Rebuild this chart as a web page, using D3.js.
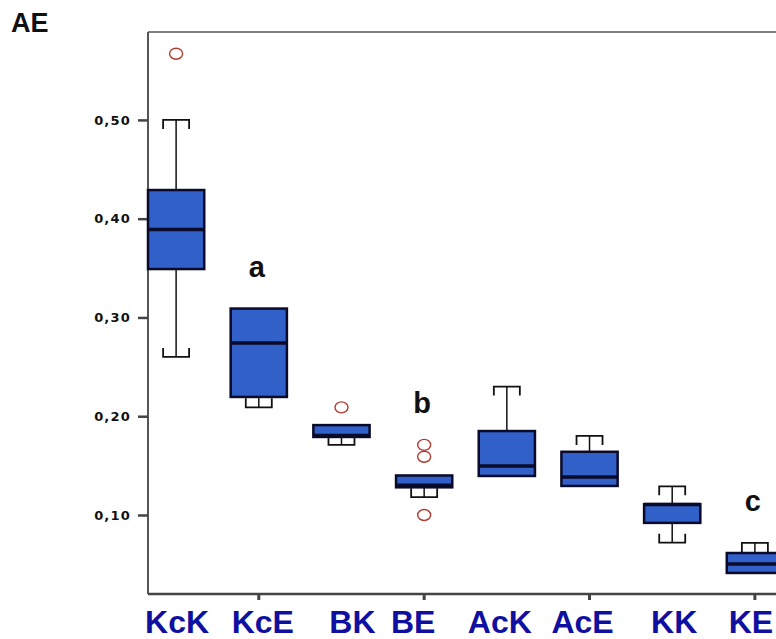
<!DOCTYPE html>
<html>
<head>
<meta charset="utf-8">
<script src="https://cdn.jsdelivr.net/npm/d3@7/dist/d3.min.js"></script>
<style>
  html, body { margin: 0; padding: 0; background: #fff; }
  svg { display: block; }
</style>
</head>
<body>
<svg id="chart" width="776" height="639"></svg>
<script>
// Groups along the x axis
const categories = ["KcK", "KcE", "BK", "BE", "AcK", "AcE", "KK", "KE"];

// Five-number summaries per group (AE)
const whiskerLow  = [0.260, 0.209, 0.171, 0.118, 0.1395, 0.1294, 0.072, 0.0413];
const q1          = [0.349, 0.2195, 0.179, 0.128, 0.1395, 0.1294, 0.092, 0.0413];
const median      = [0.389, 0.274, 0.1805, 0.1302, 0.1496, 0.1385, 0.1105, 0.0504];
const q3          = [0.429, 0.309, 0.191, 0.140, 0.185, 0.164, 0.111, 0.0615];
const whiskerHigh = [0.500, 0.309, 0.191, 0.140, 0.230, 0.180, 0.129, 0.0717];

// Outlying observations per group
const outliers = [[0.567], [], [0.209], [0.171, 0.159, 0.100], [], [], [], []];

// Significance letters above groups
const sigLetters = ["", "a", "", "b", "", "", "", "c"];

// Y axis ticks
const yTicks = [0.10, 0.20, 0.30, 0.40, 0.50];

// ---- layout ----
const W = 776, H = 639;
const plotL = 148, plotT = 32, plotB = 594, plotR = 783;
const labelNudge = [1, 4, 11, -11, -7, -7, 2, -4];

const svg = d3.select("#chart");

const x = d3.scaleBand()
  .domain(categories)
  .range([plotL, plotR])
  .paddingInner(0.32)
  .paddingOuter(0);

const y = d3.scaleLinear()
  .domain([0.02, 0.589])
  .range([plotB, plotT]);

const bw = x.bandwidth();
const cx = c => x(c) + bw / 2;
const capHalf = 13;
const capTick = 9;

// frame lines
svg.append("line")
  .attr("x1", plotL).attr("x2", W).attr("y1", plotT).attr("y2", plotT)
  .attr("stroke", "#555").attr("stroke-width", 1.5);
svg.append("line")
  .attr("x1", plotL).attr("x2", plotL).attr("y1", plotT).attr("y2", plotB)
  .attr("stroke", "#555").attr("stroke-width", 2);

// y axis ticks and labels
const yAxis = svg.append("g")
  .attr("transform", `translate(${plotL},0)`)
  .call(d3.axisLeft(y)
    .tickValues(yTicks)
    .tickSize(10)
    .tickPadding(7)
    .tickFormat(d => d3.format(".2f")(d).replace(".", ",")));
yAxis.select(".domain").remove();
yAxis.selectAll(".tick line").attr("stroke", "#444").attr("stroke-width", 2.5);
yAxis.selectAll(".tick text")
  .attr("fill", "#111")
  .style("font-family", "'DejaVu Sans', sans-serif")
  .style("font-weight", "bold")
  .style("font-size", "13px")
  .style("letter-spacing", "1.2px");

// x axis (ticks on every other group)
const xAxis = svg.append("g")
  .attr("transform", `translate(0,${plotB})`)
  .call(d3.axisBottom(x)
    .tickValues(categories.filter((d, i) => i % 2 === 1))
    .tickSize(6)
    .tickFormat(""));
xAxis.select(".domain").remove();
xAxis.selectAll(".tick line").attr("stroke", "#444").attr("stroke-width", 3);
svg.append("line")
  .attr("x1", plotL).attr("x2", W).attr("y1", plotB).attr("y2", plotB)
  .attr("stroke", "#444").attr("stroke-width", 2.5);

// category labels
svg.append("g").selectAll("text")
  .data(categories)
  .join("text")
  .attr("x", (d, i) => cx(d) + labelNudge[i])
  .attr("y", 633)
  .attr("text-anchor", "middle")
  .attr("fill", "#1010a0")
  .style("font-family", "'Liberation Sans', Arial, sans-serif")
  .style("font-weight", "bold")
  .style("font-size", "32px")
  .text(d => d);

// box plots
const rows = categories.map((c, i) => ({
  c, lo: whiskerLow[i], q1: q1[i], med: median[i], q3: q3[i], hi: whiskerHigh[i], out: outliers[i]
}));

const boxes = svg.append("g").selectAll("g")
  .data(rows)
  .join("g");

// whiskers with serif caps
boxes.each(function (d) {
  const g = d3.select(this);
  const xc = cx(d.c);
  if (d.hi > d.q3) {
    const yc = y(d.hi), yb = y(d.q3);
    const t = Math.min(capTick, yb - yc);
    g.append("line").attr("x1", xc).attr("x2", xc).attr("y1", yb).attr("y2", yc)
      .attr("stroke", "#111").attr("stroke-width", 1.5);
    g.append("path")
      .attr("d", `M${xc - capHalf},${yc + t}V${yc}H${xc + capHalf}V${yc + t}`)
      .attr("fill", "none").attr("stroke", "#111").attr("stroke-width", 1.8);
  }
  if (d.lo < d.q1) {
    const yc = y(d.lo), yb = y(d.q1);
    const t = Math.min(capTick, yc - yb);
    g.append("line").attr("x1", xc).attr("x2", xc).attr("y1", yb).attr("y2", yc)
      .attr("stroke", "#111").attr("stroke-width", 1.5);
    g.append("path")
      .attr("d", `M${xc - capHalf},${yc - t}V${yc}H${xc + capHalf}V${yc - t}`)
      .attr("fill", "none").attr("stroke", "#111").attr("stroke-width", 1.8);
  }
});

boxes.append("rect")
  .attr("x", d => x(d.c))
  .attr("width", bw)
  .attr("y", d => y(d.q3))
  .attr("height", d => y(d.q1) - y(d.q3))
  .attr("fill", "#3060c8")
  .attr("stroke", "#0a0a2a")
  .attr("stroke-width", 2.5);

boxes.append("line")
  .attr("x1", d => x(d.c))
  .attr("x2", d => x(d.c) + bw)
  .attr("y1", d => y(d.med))
  .attr("y2", d => y(d.med))
  .attr("stroke", "#0a0a2a")
  .attr("stroke-width", 3.5);

boxes.selectAll("ellipse")
  .data(d => d.out.map(v => ({ c: d.c, v })))
  .join("ellipse")
  .attr("cx", d => cx(d.c))
  .attr("cy", d => y(d.v))
  .attr("rx", 6.5)
  .attr("ry", 5.5)
  .attr("fill", "none")
  .attr("stroke", "#b03a30")
  .attr("stroke-width", 1.4);

// significance letters
svg.append("g").selectAll("text")
  .data(rows.filter((d, i) => sigLetters[i]))
  .join("text")
  .attr("x", d => cx(d.c) - 2)
  .attr("y", d => y(d3.max([d.hi, ...d.out])) - 32)
  .attr("text-anchor", "middle")
  .attr("fill", "#111")
  .style("font-family", "'Liberation Sans', Arial, sans-serif")
  .style("font-weight", "bold")
  .style("font-size", "29px")
  .text(d => sigLetters[categories.indexOf(d.c)]);

// panel title
svg.append("text")
  .attr("x", 11)
  .attr("y", 32)
  .attr("fill", "#111")
  .style("font-family", "'Liberation Sans', Arial, sans-serif")
  .style("font-weight", "bold")
  .style("font-size", "27px")
  .text("AE");
</script>
</body>
</html>
